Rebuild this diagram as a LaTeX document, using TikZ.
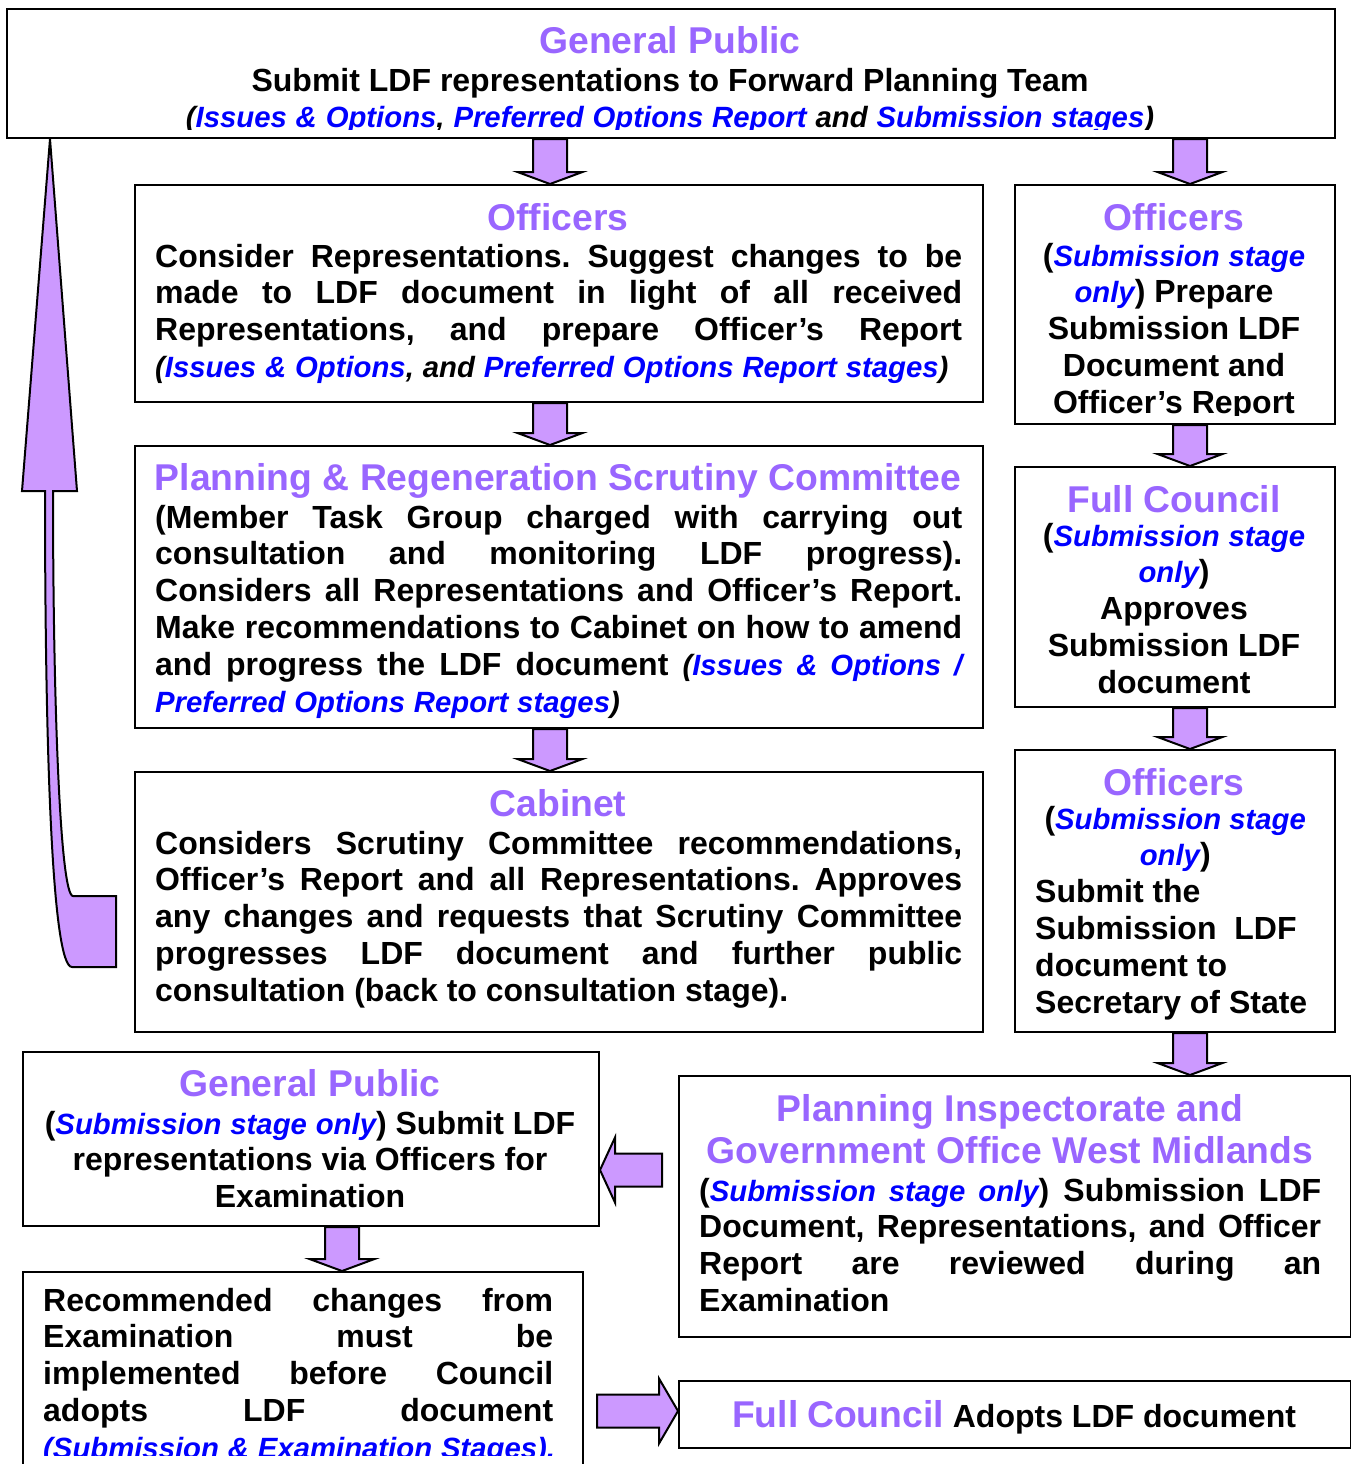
\documentclass[tikz,border=0pt]{standalone}
\usepackage{fontspec}
\setmainfont{Liberation Sans}
\usetikzlibrary{calc}
\definecolor{ttlpurple}{HTML}{9966FF}
\definecolor{arrlilac}{HTML}{CC99FF}
\definecolor{stageblue}{HTML}{0000FF}
% plain word spaces (no stretch), no extra space after full stops
\newcommand{\wsp}{\spaceskip=\fontdimen2\font\relax\xspaceskip=0pt\frenchspacing}
\tikzset{
    FlowBox/.style={draw, line width=2pt, rectangle, inner sep=0pt, anchor=north west},
    BoxTitle/.style={font=\fontsize{37.3}{42.9}\selectfont\bfseries, text=ttlpurple, inner sep=0pt, anchor=base,
        execute at begin node=\wsp},
    BoxText/.style={font=\fontsize{32}{36.8}\selectfont\bfseries, inner sep=0pt, anchor=base west, align=left,
        execute at begin node=\wsp},
    BlockArrow/.style={draw, line width=2pt, fill=arrlilac, line join=miter}
}
\newcommand{\stg}[1]{{\fontsize{29.3}{36.8}\selectfont\color{stageblue}\itshape #1}}
\newcommand{\itl}[1]{{\fontsize{29.3}{36.8}\selectfont\itshape #1}}
\newcommand{\jl}[2][807pt]{\leavevmode\hbox to #1{\spaceskip=0pt\xspaceskip=0pt\frenchspacing #2}}
\newcommand{\dnarr}[2]{% block arrow pointing down
  \draw[BlockArrow] ($(#1)+(-17,0)$) -- ($(#2)+(-17,-12)$) -- ($(#2)+(-32.5,-12)$) -- (#2)
     -- ($(#2)+(32.5,-12)$) -- ($(#2)+(17,-12)$) -- ($(#1)+(17,0)$) -- cycle;}
\newcommand{\sdarr}[3]{% block arrow sideways, #3 = signed head length
  \draw[BlockArrow] ($(#1)+(0,-16.5)$) -- ($(#2)+(#3,-16.5)$) -- ($(#2)+(#3,-32.5)$) -- (#2)
     -- ($(#2)+(#3,32.5)$) -- ($(#2)+(#3,16.5)$) -- ($(#1)+(0,16.5)$) -- cycle;}
\begin{document}
\begin{tikzpicture}[x=1pt,y=-1pt]
    \useasboundingbox (0,0) rectangle (1351,1464);

    % boxes
    \node[FlowBox, minimum width=1328pt, minimum height=129pt] (gp) at (6,8) {};
    \node[FlowBox, minimum width=848pt, minimum height=217pt] (offL) at (134,184) {};
    \node[FlowBox, minimum width=320pt, minimum height=239pt] (offR) at (1014,184) {};
    \node[FlowBox, minimum width=848pt, minimum height=282pt] (prsc) at (134,445) {};
    \node[FlowBox, minimum width=320pt, minimum height=240pt] (fcR) at (1014,466) {};
    \node[FlowBox, minimum width=848pt, minimum height=260pt] (cab) at (134,771) {};
    \node[FlowBox, minimum width=320pt, minimum height=282pt] (offRb) at (1014,749) {};
    \node[FlowBox, minimum width=576pt, minimum height=174pt] (gpb) at (22,1051) {};
    \node[FlowBox, minimum width=672pt, minimum height=261pt] (insp) at (678,1075) {};
    \node[FlowBox, minimum width=560pt, minimum height=194pt] (rec) at (22,1271) {};
    \node[FlowBox, minimum width=672pt, minimum height=67pt] (fca) at (678,1380) {};

    % top box
    \node[BoxTitle] (gpT) at (670,53) {General Public};
    \begin{scope}
        \clip (gp.north west) rectangle ([yshift=10pt]gp.south east);
        \node[BoxText, anchor=base, align=center, text width=1310pt] (gpB) at (670,91)
            {Submit LDF representations to Forward Planning Team\\
             \itl{(}\stg{Issues \& Options}\itl{, }\stg{Preferred Options Report}\itl{ and }\stg{Submission stages}\itl{)}};
    \end{scope}

    % left column
    \node[BoxTitle] (offLT) at (558,230) {Officers};
    \node[BoxText, text width=807pt] (offLB) at (155,267)
        {\jl{Consider Representations. Suggest changes to be}\\
         \jl{made to LDF document in light of all received}\\
         \jl{Representations, and prepare Officer’s Report}\\
         \mbox{\itl{(}\stg{Issues \& Options}\itl{, and }\stg{Preferred Options Report stages}\itl{)}}};

    \node[BoxTitle] (prscT) at (558,490) {Planning \& Regeneration Scrutiny Committee};
    \node[BoxText, text width=807pt] (prscB) at (155,528)
        {\jl{(Member Task Group charged with carrying out}\\
         \jl{consultation and monitoring LDF progress).}\\
         \jl{Considers all Representations and Officer’s Report.}\\
         \jl{Make recommendations to Cabinet on how to amend}\\
         \jl{and progress the LDF document \itl{(}\stg{Issues \& Options /}}\\
         \mbox{\stg{Preferred Options Report stages}\itl{)}}};

    \node[BoxTitle] (cabT) at (558,816) {Cabinet};
    \node[BoxText, text width=807pt] (cabB) at (155,854)
        {\jl{Considers Scrutiny Committee recommendations,}\\
         \jl{Officer’s Report and all Representations. Approves}\\
         \jl{any changes and requests that Scrutiny Committee}\\
         \jl{progresses LDF document and further public}\\
         \mbox{consultation (back to consultation stage).}};

    % right column
    \node[BoxTitle] (offRT) at (1174,230) {Officers};
    \begin{scope}
        \clip (offR.north west) rectangle ([yshift=10pt]offR.south east);
        \node[BoxText, anchor=base, align=center, text width=310pt] (offRB) at (1174,266)
            {(\stg{Submission stage}\\ \stg{only}) Prepare\\ Submission LDF\\ Document and\\ Officer’s Report};
    \end{scope}

    \node[BoxTitle] (fcRT) at (1174,512) {Full Council};
    \node[BoxText, anchor=base, align=center, text width=310pt] (fcRB) at (1174,546)
        {(\stg{Submission stage}\\ \stg{only})\\ Approves\\ Submission LDF\\ document};

    \node[BoxTitle] (offRbT) at (1174,795) {Officers};
    \node[BoxText, text width=280pt] (offRbB) at (1035,829)
        {\jl[280pt]{\hfil(\stg{Submission stage}\hfil}\\
         \jl[280pt]{\hfil\stg{only})\hfil}\\
         Submit the\\ \mbox{Submission\ \ LDF}\\ document to\\ \mbox{Secretary of State}};

    % bottom part
    \node[BoxTitle] (gpbT) at (310,1096) {General Public};
    \node[BoxText, anchor=base, align=center, text width=570pt] (gpbB) at (310,1134)
        {\mbox{(\stg{Submission stage only}) Submit LDF}\\ representations via Officers for\\ Examination};

    \node[BoxTitle, align=center, text width=660pt] (inspT) at (1010,1121)
        {Planning Inspectorate and\\ Government Office West Midlands};
    \node[BoxText, text width=622pt] (inspB) at (699,1201)
        {\jl[622pt]{(\stg{Submission stage only}) Submission LDF}\\
         \jl[622pt]{Document, Representations, and Officer}\\
         \jl[622pt]{Report are reviewed during an}\\
         Examination};

    \begin{scope}
        \clip (rec.north west) rectangle ([yshift=12pt]rec.south east);
        \node[BoxText, text width=510pt] (recB) at (43,1311)
            {\jl[510pt]{Recommended changes from}\\
             \jl[510pt]{Examination must be}\\
             \jl[510pt]{implemented before Council}\\
             \jl[510pt]{adopts LDF document}\\
             \mbox{\stg{(Submission \& Examination Stages).}}};
    \end{scope}

    \node[BoxText, anchor=base] (fcaB) at (1014,1427)
        {{\color{ttlpurple}\fontsize{37.3}{42.9}\selectfont Full Council} Adopts LDF document};

    % block arrows
    \coordinate (colL) at (550,0);
    \coordinate (colR) at (1190,0);
    \coordinate (colB) at (342,0);
    \coordinate (upx) at (50,0);
    \dnarr{gp.south -| colL}{offL.north -| colL}
    \dnarr{gp.south -| colR}{offR.north -| colR}
    \dnarr{offL.south -| colL}{prsc.north -| colL}
    \dnarr{prsc.south -| colL}{cab.north -| colL}
    \dnarr{offR.south -| colR}{fcR.north -| colR}
    \dnarr{fcR.south -| colR}{offRb.north -| colR}
    \dnarr{offRb.south -| colR}{insp.north -| colR}
    \dnarr{gpb.south -| colB}{rec.north -| colB}

    \coordinate (inspout) at (662,1170);
    \sdarr{inspout}{gpb.east |- inspout}{15}
    \coordinate (recout) at (597,1411);
    \sdarr{recout}{fca.west |- recout}{-19}

    % back to consultation
    \draw[BlockArrow] (gp.south -| upx) -- (77,491) -- (53,491)
        .. controls (53,700) and (60,896) .. (73,896) -- (116,896) -- (116,967) -- (72,967)
        .. controls (52,967) and (45,750) .. (45,491) -- (22,491) -- cycle;
\end{tikzpicture}
\end{document}
